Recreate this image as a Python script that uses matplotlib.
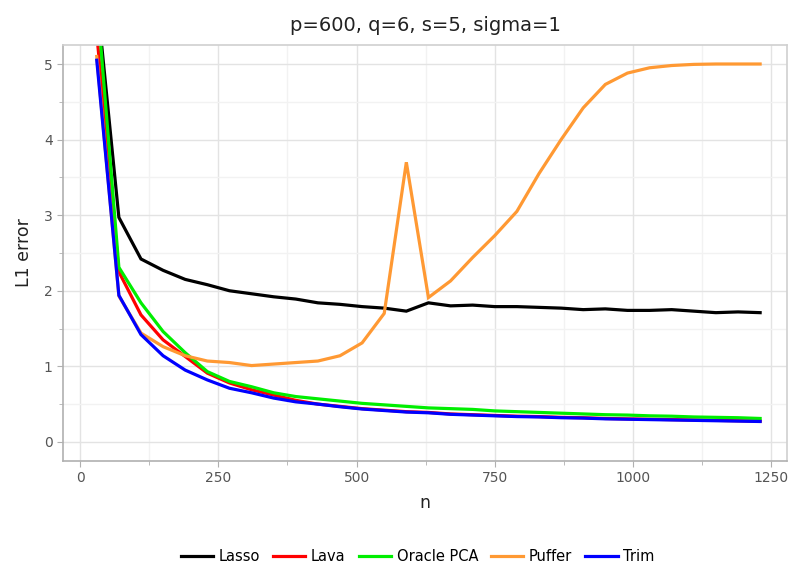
import numpy as np
import matplotlib
matplotlib.use("Agg")
import matplotlib.pyplot as plt
from matplotlib.ticker import MultipleLocator

# sample sizes
n = list(range(30, 1231, 40))

lasso = [5.9, 2.97, 2.42, 2.27, 2.15, 2.08, 2.00, 1.96, 1.92, 1.89, 1.84, 1.82,
         1.79, 1.77, 1.73, 1.84, 1.80, 1.81, 1.79, 1.79, 1.78, 1.77, 1.75, 1.76,
         1.74, 1.74, 1.75, 1.73, 1.71, 1.72, 1.71]
lava = [5.4, 2.25, 1.68, 1.35, 1.13, 0.91, 0.78, 0.69, 0.62, 0.55, 0.50, 0.47,
        0.44, 0.42, 0.40, 0.39, 0.37, 0.36, 0.35, 0.34, 0.335, 0.325, 0.32, 0.31,
        0.305, 0.30, 0.295, 0.29, 0.285, 0.28, 0.275]
oracle_pca = [5.9, 2.31, 1.84, 1.46, 1.18, 0.93, 0.80, 0.73, 0.65, 0.60, 0.57,
              0.54, 0.51, 0.49, 0.47, 0.45, 0.44, 0.43, 0.41, 0.40, 0.39, 0.38,
              0.37, 0.36, 0.355, 0.345, 0.34, 0.33, 0.325, 0.32, 0.31]
puffer = [5.1, 1.93, 1.44, 1.26, 1.14, 1.07, 1.05, 1.01, 1.03, 1.05, 1.07, 1.14,
          1.31, 1.70, 3.70, 1.91, 2.13, 2.44, 2.73, 3.05, 3.55, 4.00, 4.42, 4.73,
          4.88, 4.95, 4.98, 4.995, 5.0, 5.0, 5.0]
trim = [5.05, 1.94, 1.42, 1.14, 0.95, 0.82, 0.71, 0.65, 0.58, 0.53, 0.50, 0.465,
        0.435, 0.415, 0.395, 0.385, 0.365, 0.355, 0.345, 0.335, 0.33, 0.32,
        0.315, 0.305, 0.30, 0.295, 0.29, 0.285, 0.28, 0.275, 0.27]

series = [("Lasso", lasso, "#000000"),
          ("Lava", lava, "#ff0000"),
          ("Oracle PCA", oracle_pca, "#00ee00"),
          ("Puffer", puffer, "#ff9933"),
          ("Trim", trim, "#0000ff")]

fig = plt.figure(figsize=(7.88, 5.71), dpi=100)
ax = fig.add_axes([0.080, 0.193, 0.919, 0.728])

for label, vals, col in series:
    ax.plot(n, vals, color=col, lw=2.3, label=label, solid_joinstyle="miter")

ax.set_xlim(-31, 1279)
ax.set_ylim(-0.25, 5.25)
ax.xaxis.set_major_locator(MultipleLocator(250))
ax.xaxis.set_minor_locator(MultipleLocator(125))
ax.yaxis.set_major_locator(MultipleLocator(1))
ax.yaxis.set_minor_locator(MultipleLocator(0.5))
ax.grid(which="major", color="#e3e3e3", lw=1.0)
ax.grid(which="minor", color="#f2f2f2", lw=1.0)
ax.set_axisbelow(True)

for side in ["top", "right"]:
    ax.spines[side].set_color("#d0d0d0")
for side in ["left", "bottom"]:
    ax.spines[side].set_color("#b0b0b0")
for sp in ax.spines.values():
    sp.set_linewidth(1.2)

ax.tick_params(which="both", colors="#b0b0b0", labelcolor="#555555",
               labelsize=10, length=4)
ax.tick_params(which="minor", length=3)

ax.set_xlabel("n", fontsize=12.5, color="#222222", labelpad=6)
ax.set_ylabel("L1 error", fontsize=12.5, color="#222222", labelpad=8)
ax.set_title("p=600, q=6, s=5, sigma=1", fontsize=14, color="#222222", pad=10)

fig.legend(loc="center", bbox_to_anchor=(0.53, 0.025), ncol=5, frameon=False,
           fontsize=10.5, handlelength=2.2, columnspacing=0.9, handletextpad=0.4)

fig.savefig("out.png", dpi=100)
